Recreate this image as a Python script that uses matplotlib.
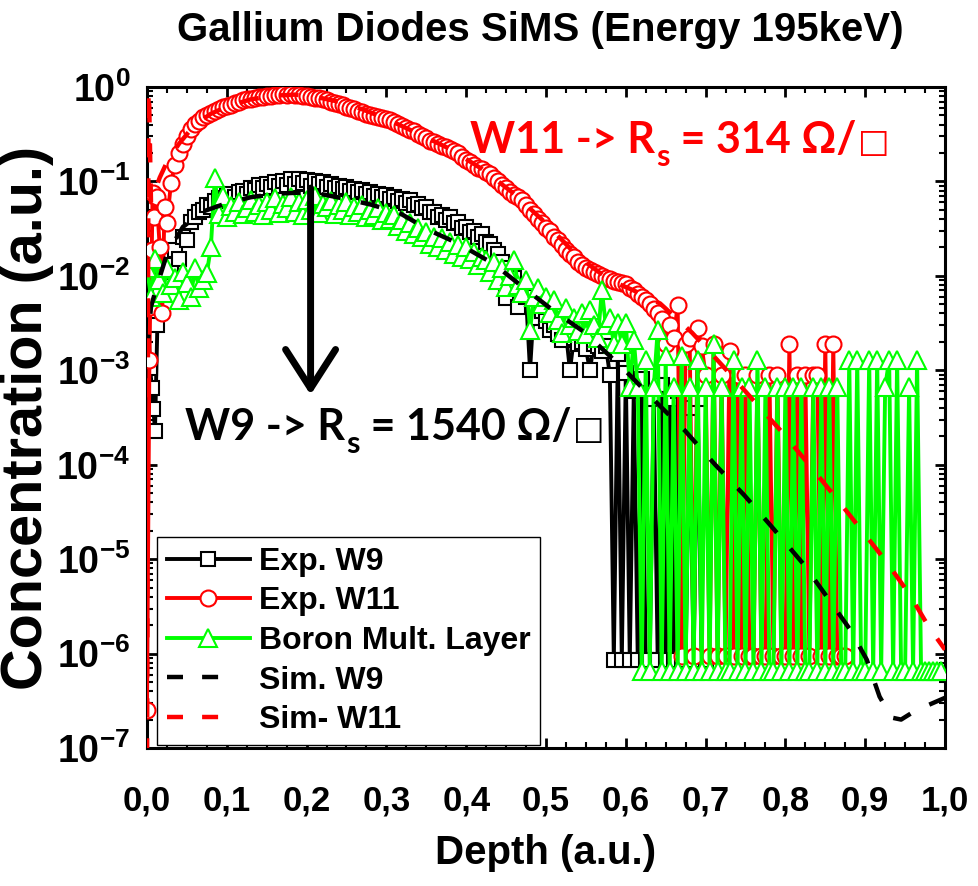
import numpy as np
import matplotlib
matplotlib.use("Agg")
import matplotlib.pyplot as plt
from matplotlib.ticker import MultipleLocator, LogLocator, FuncFormatter, LogFormatterMathtext, NullFormatter

# ── Data ─────────────────────────────────────────────────────────────────────
STEP = 0.005

# Exp. W9 : irregular head, then a regular depth grid from 0.020
W9_HEAD_X = [0.000, 0.004, 0.006, 0.008, 0.010, 0.013, 0.016]
W9_HEAD_Y = [6.0e-3, 1.05e-3, 6.5e-4, 3.9e-4, 2.3e-4, 3.0e-3, 7.0e-3]
W9_GRID_START = 0.020
W9_Y = [
    9.0e-3, 1.1e-2, 1.3e-2, 1.9e-2, 1.5e-2, 2.6e-2, 2.4e-2, 3.7e-2, 4.2e-2, 4.7e-2,
    5.0e-2, 5.6e-2, 5.3e-2, 6.2e-2, 6.7e-2, 6.3e-2, 7.0e-2, 7.4e-2, 6.8e-2, 7.7e-2,
    8.0e-2, 7.4e-2, 8.5e-2, 8.2e-2, 9.2e-2, 8.6e-2, 9.5e-2, 8.8e-2, 9.8e-2, 9.0e-2,
    1.0e-1, 9.2e-2, 1.05e-1, 9.4e-2, 1.07e-1, 9.6e-2, 1.03e-1, 9.0e-2, 1.0e-1, 9.3e-2,
    9.8e-2, 8.8e-2, 9.5e-2, 8.6e-2, 9.0e-2, 8.3e-2, 8.8e-2, 8.0e-2, 8.4e-2, 7.8e-2,
    8.1e-2, 7.4e-2, 7.8e-2, 7.0e-2, 7.4e-2, 6.8e-2, 7.1e-2, 6.5e-2, 6.8e-2, 6.2e-2,
    6.5e-2, 5.9e-2, 6.3e-2, 5.6e-2, 5.8e-2, 5.2e-2, 5.4e-2, 4.7e-2, 4.8e-2, 4.2e-2,
    4.4e-2, 3.9e-2, 4.2e-2, 3.6e-2, 3.7e-2, 3.2e-2, 3.3e-2, 2.9e-2, 3.0e-2, 2.6e-2,
    2.8e-2, 2.3e-2, 2.2e-2, 1.9e-2, 1.7e-2, 1.4e-2, 5.8e-3, 1.2e-2, 9.5e-3, 4.7e-3,
    7.5e-3, 6.0e-3, 1.0e-3, 5.0e-3, 3.6e-3, 4.2e-3, 3.3e-3, 2.7e-3, 3.0e-3, 2.4e-3,
    2.1e-3, 2.5e-3, 1.0e-3, 2.2e-3, 1.9e-3, 2.0e-3, 1.7e-3, 1.0e-3, 1.9e-3, 1.8e-3,
    1.6e-3, 1.8e-3, 9.0e-4, 8.5e-7, 1.5e-3, 8.5e-7, 9.3e-4, 8.5e-7, 6.0e-4, 8.5e-7,
    8.0e-4, 8.5e-7, 8.5e-7, 5.0e-4, 8.5e-7, 7.0e-4, 8.5e-7, 5.0e-4, 8.5e-7, 6.0e-4,
    8.5e-7, 8.5e-7, 4.0e-4, 8.5e-7, 5.0e-4, 8.5e-7, 8.5e-7,
]

# Exp. W11
W11_HEAD_X = [0.000, 0.003, 0.004, 0.006, 0.007, 0.009, 0.012, 0.016, 0.019, 0.022]
W11_HEAD_Y = [2.5e-7, 1.3e-3, 4.7e-3, 1.9e-2, 7.5e-2, 4.2e-2, 6.8e-2, 2.0e-2, 4.0e-3, 5.4e-2]
W11_GRID_START = 0.025
W11_Y = [
    3.6e-2, 9.6e-2, 1.5e-1, 2.0e-1, 2.5e-1, 3.0e-1, 3.6e-1, 4.1e-1, 4.4e-1, 4.8e-1,
    5.0e-1, 5.3e-1, 5.6e-1, 5.8e-1, 6.1e-1, 6.3e-1, 6.5e-1, 6.8e-1, 7.0e-1, 7.2e-1,
    7.4e-1, 7.5e-1, 7.7e-1, 7.8e-1, 7.9e-1, 8.0e-1, 8.1e-1, 8.3e-1, 8.2e-1, 8.4e-1,
    8.3e-1, 8.4e-1, 8.2e-1, 8.3e-1, 8.1e-1, 8.0e-1, 7.9e-1, 7.7e-1, 7.6e-1, 7.4e-1,
    7.3e-1, 7.0e-1, 6.8e-1, 6.6e-1, 6.4e-1, 6.2e-1, 6.0e-1, 5.8e-1, 5.6e-1, 5.4e-1,
    5.2e-1, 5.0e-1, 4.9e-1, 4.8e-1, 4.7e-1, 4.6e-1, 4.5e-1, 4.3e-1, 4.1e-1, 3.9e-1,
    3.7e-1, 3.5e-1, 3.4e-1, 3.2e-1, 3.0e-1, 2.9e-1, 2.7e-1, 2.6e-1, 2.5e-1, 2.4e-1,
    2.3e-1, 2.2e-1, 2.1e-1, 2.0e-1, 1.8e-1, 1.7e-1, 1.6e-1, 1.5e-1, 1.4e-1, 1.35e-1,
    1.25e-1, 1.2e-1, 1.1e-1, 1.0e-1, 9.2e-2, 8.5e-2, 7.8e-2, 7.2e-2, 6.8e-2, 6.4e-2,
    5.6e-2, 5.0e-2, 4.5e-2, 4.0e-2, 3.6e-2, 3.2e-2, 3.0e-2, 2.6e-2, 2.4e-2, 2.1e-2,
    1.9e-2, 1.7e-2, 1.6e-2, 1.4e-2, 1.3e-2, 1.2e-2, 1.15e-2, 1.1e-2, 1.05e-2, 1.0e-2,
    9.6e-3, 9.2e-3, 8.8e-3, 8.6e-3, 8.4e-3, 8.2e-3, 7.5e-3, 7.0e-3, 6.5e-3, 6.0e-3,
    5.6e-3, 5.0e-3, 4.5e-3, 4.0e-3, 3.5e-3, 1.9e-3, 3.0e-3, 2.2e-3, 4.9e-3, 9.5e-7,
    1.9e-3, 2.2e-3, 9.5e-7, 2.8e-3, 1.8e-3, 9.0e-4, 9.5e-7, 1.9e-3, 9.5e-7, 9.0e-4,
    9.5e-7, 1.6e-3, 9.5e-7, 9.0e-4, 9.5e-7, 9.0e-4, 9.5e-7, 9.5e-7, 9.0e-4, 9.5e-7,
    9.5e-7, 9.0e-4, 9.5e-7, 9.0e-4, 9.5e-7, 9.5e-7, 1.9e-3, 9.5e-7, 9.0e-4, 9.5e-7,
    9.0e-4, 9.5e-7, 9.0e-4, 9.0e-4, 9.5e-7, 1.9e-3, 9.5e-7, 1.9e-3, 9.5e-7, 9.5e-7,
    9.5e-7,
]

# Boron Mult. Layer
B_HEAD_X = [0.000, 0.005, 0.010, 0.015]
B_HEAD_Y = [1.2e-2, 6.0e-3, 1.5e-2, 9.0e-3]
B_GRID_START = 0.020
B_Y = [
    6.6e-3, 1.2e-2, 8.0e-3, 9.6e-3, 5.5e-3, 1.1e-2, 8.4e-3, 6.0e-3, 1.2e-2, 7.5e-3,
    9.0e-3, 1.07e-2, 2.0e-2, 1.08e-1, 4.5e-2, 7.0e-2, 4.2e-2, 5.5e-2, 4.8e-2, 6.0e-2,
    4.5e-2, 5.2e-2, 6.3e-2, 4.8e-2, 5.6e-2, 4.4e-2, 6.0e-2, 5.0e-2, 6.6e-2, 4.6e-2,
    5.8e-2, 5.2e-2, 6.8e-2, 4.8e-2, 6.0e-2, 4.4e-2, 6.4e-2, 5.0e-2, 7.0e-2, 4.6e-2,
    5.8e-2, 5.3e-2, 6.2e-2, 4.5e-2, 5.6e-2, 5.0e-2, 6.0e-2, 4.4e-2, 5.4e-2, 4.8e-2,
    5.6e-2, 4.2e-2, 5.0e-2, 4.4e-2, 5.2e-2, 3.9e-2, 4.6e-2, 4.0e-2, 4.4e-2, 3.4e-2,
    3.9e-2, 3.0e-2, 3.6e-2, 2.8e-2, 3.2e-2, 2.6e-2, 2.9e-2, 2.2e-2, 2.6e-2, 2.0e-2,
    2.5e-2, 1.9e-2, 2.3e-2, 1.7e-2, 2.1e-2, 1.6e-2, 2.0e-2, 1.5e-2, 1.8e-2, 1.3e-2,
    1.6e-2, 1.47e-2, 1.1e-2, 1.4e-2, 9.0e-3, 1.2e-2, 7.6e-3, 1.0e-2, 1.47e-2, 8.0e-3,
    6.6e-3, 9.0e-3, 2.7e-3, 6.0e-3, 7.5e-3, 5.0e-3, 6.0e-3, 4.0e-3, 5.5e-3, 3.4e-3,
    2.5e-3, 4.6e-3, 3.0e-3, 3.6e-3, 2.6e-3, 4.0e-3, 2.4e-3, 4.3e-3, 3.0e-3, 2.2e-3,
    7.0e-3, 3.0e-3, 3.6e-3, 1.9e-3, 3.2e-3, 1.9e-3, 3.2e-3, 6.6e-4, 2.1e-3, 6.6e-4,
    6.6e-7, 1.3e-3, 6.6e-7, 6.6e-4, 2.7e-3, 6.6e-7, 1.4e-3, 6.6e-7, 6.6e-4, 6.6e-7,
    1.4e-3, 6.6e-7, 6.6e-4, 6.6e-7, 1.3e-3, 6.6e-7, 6.6e-4, 6.6e-7, 1.9e-3, 6.6e-7,
    6.6e-4, 6.6e-7, 6.6e-7, 1.3e-3, 6.6e-7, 6.6e-4, 6.6e-7, 6.6e-4, 6.6e-7, 1.3e-3,
    6.6e-7, 6.6e-4, 6.6e-7, 6.6e-7, 6.6e-4, 6.6e-7, 6.6e-4, 6.6e-7, 6.6e-4, 6.6e-7,
    6.6e-4, 6.6e-7, 6.6e-7, 6.6e-4, 6.6e-7, 6.6e-4, 6.6e-7, 6.6e-4, 6.6e-7, 6.6e-4,
    6.6e-7, 6.6e-7, 1.3e-3, 6.6e-7, 1.3e-3, 6.6e-7, 6.6e-7, 1.3e-3, 6.6e-7, 1.3e-3,
    6.6e-7, 6.6e-4, 1.3e-3, 6.6e-7, 1.3e-3, 6.6e-7, 6.6e-7, 6.6e-4, 6.6e-7, 1.3e-3,
    6.6e-7, 6.6e-7, 6.6e-7, 6.6e-7, 6.6e-7, 6.6e-7,
]

# Simulations
SIM_W9_X = [0.000, 0.005, 0.012, 0.025, 0.045, 0.070, 0.100, 0.130, 0.160, 0.190,
            0.220, 0.250, 0.280, 0.317, 0.355, 0.390, 0.435, 0.471, 0.509, 0.549,
            0.599, 0.638, 0.674, 0.712, 0.749, 0.785, 0.822, 0.852, 0.881, 0.902,
            0.918, 0.933, 0.945, 0.960, 0.977, 1.000]
SIM_W9_Y = [1.5e-3, 4.7e-3, 7.6e-3, 1.7e-2, 3.3e-2, 4.8e-2, 5.9e-2, 6.8e-2, 7.4e-2, 7.6e-2,
            7.3e-2, 6.5e-2, 5.7e-2, 4.6e-2, 3.0e-2, 2.2e-2, 1.33e-2, 7.6e-3, 4.3e-3, 2.5e-3,
            1.0e-3, 4.6e-4, 2.3e-4, 1.0e-4, 4.7e-5, 2.1e-5, 9.0e-6, 4.0e-6, 1.8e-6, 8.6e-7,
            3.5e-7, 2.1e-7, 2.0e-7, 2.4e-7, 2.8e-7, 3.4e-7]

SIM_W11_X = [0.000, 0.002, 0.005, 0.010, 0.016, 0.025, 0.040, 0.060, 0.080, 0.100,
             0.130, 0.160, 0.185, 0.210, 0.240, 0.270, 0.300, 0.340, 0.380, 0.420,
             0.460, 0.500, 0.540, 0.580, 0.610, 0.643, 0.683, 0.722, 0.759, 0.794,
             0.831, 0.863, 0.894, 0.926, 0.955, 0.980, 1.000]
SIM_W11_Y = [3e-8, 1.5, 6e-2, 8e-2, 1.1e-1, 1.6e-1, 2.5e-1, 4.0e-1, 5.2e-1, 6.2e-1,
             7.4e-1, 8.1e-1, 8.3e-1, 7.9e-1, 7.0e-1, 5.8e-1, 4.6e-1, 3.2e-1, 2.2e-1, 1.35e-1,
             7.4e-2, 3.6e-2, 1.6e-2, 9.0e-3, 7.0e-3, 5.1e-3, 2.5e-3, 1.1e-3, 4.9e-4, 2.3e-4,
             9.7e-5, 4.5e-5, 2.1e-5, 9.5e-6, 4.3e-6, 1.9e-6, 1.1e-6]


def depth(head_x, start, values):
    """Head depths followed by the regular grid for the remaining values."""
    n = len(values)
    return np.concatenate([head_x, start + STEP * np.arange(n)])


# ── Style ────────────────────────────────────────────────────────────────────
plt.rcParams['font.family'] = ['Liberation Sans', 'DejaVu Sans']
plt.rcParams['font.weight'] = 'bold'
plt.rcParams['axes.labelweight'] = 'bold'
plt.rcParams['mathtext.fontset'] = 'custom'
plt.rcParams['mathtext.rm'] = 'Liberation Sans:bold'
plt.rcParams['mathtext.bf'] = 'Liberation Sans:bold'
plt.rcParams['mathtext.it'] = 'Liberation Sans:bold:italic'

GREEN = '#00ff00'

fig = plt.figure(figsize=(9.79, 8.86), dpi=100)
ax = fig.add_axes([147 / 979, 138 / 886, 798 / 979, 661 / 886])

exp_kw = dict(lw=2.8, mfc='white', mew=1.5)
ax.plot(depth(W9_HEAD_X, W9_GRID_START, W9_Y), W9_HEAD_Y + W9_Y, '-', color='black',
        marker='s', ms=10.5, mec='black', label='Exp. W9', zorder=2, **exp_kw)
ax.plot(depth(W11_HEAD_X, W11_GRID_START, W11_Y), W11_HEAD_Y + W11_Y, '-', color='red',
        marker='o', ms=11.5, mec='red', label='Exp. W11', zorder=3, **exp_kw)
ax.plot(depth(B_HEAD_X, B_GRID_START, B_Y), B_HEAD_Y + B_Y, '-', color=GREEN,
        marker='^', ms=13, mec=GREEN, label='Boron Mult. Layer', zorder=4, **exp_kw)
ax.plot(SIM_W9_X, SIM_W9_Y, color='black', lw=3.2, dashes=(4.3, 4.7), label='Sim. W9', zorder=5)
ax.plot(SIM_W11_X, SIM_W11_Y, color='red', lw=3.2, dashes=(4.3, 4.7), label='Sim- W11', zorder=6)

ax.set_yscale('log')
ax.set_xlim(0, 1.0)
ax.set_ylim(1e-7, 1.0)

ax.xaxis.set_major_locator(MultipleLocator(0.1))
ax.xaxis.set_minor_locator(MultipleLocator(0.025))
ax.xaxis.set_major_formatter(FuncFormatter(lambda v, p: f"{v:.1f}".replace('.', ',')))
ax.yaxis.set_major_locator(LogLocator(base=10, numticks=20))
ax.yaxis.set_minor_locator(LogLocator(base=10, subs=np.arange(2, 10), numticks=100))
ax.yaxis.set_major_formatter(LogFormatterMathtext())
ax.yaxis.set_minor_formatter(NullFormatter())

ax.tick_params(which='both', direction='in', top=True, right=True)
ax.tick_params(which='major', length=7, width=2)
ax.tick_params(which='minor', length=4, width=1.5)
ax.tick_params(axis='x', labelsize=25, pad=26)
ax.tick_params(axis='y', labelsize=27, pad=12)
for sp in ax.spines.values():
    sp.set_linewidth(2.2)

ax.set_xlabel('Depth (a.u.)', fontsize=29, labelpad=12)
ax.set_ylabel('Concentration (a.u.)', fontsize=41.5, labelpad=2)
fig.text(540 / 979, 1 - 30 / 886, 'Gallium Diodes SiMS (Energy 195keV)',
         fontsize=29, fontweight='bold', ha='center', va='center')

leg = ax.legend(loc='lower left', bbox_to_anchor=(0.0125, 0.005), borderaxespad=0,
                fontsize=23, numpoints=1, handlelength=2.6, handletextpad=0.3,
                labelspacing=0.3, fancybox=False, framealpha=1, edgecolor='black',
                borderpad=0.3)
leg.get_frame().set_linewidth(1.0)
leg.set_zorder(10)
# the dashed handles show just two dashes
for h in leg.legend_handles[3:]:
    h.set_dashes([3.6, 4.3, 3.6, 30])

# ── Annotations ──────────────────────────────────────────────────────────────
ax.annotate('', xy=(0.205, 5.5e-4), xytext=(0.205, 0.085),
            arrowprops=dict(arrowstyle='->,head_length=0.7,head_width=0.45',
                            lw=5, color='black', mutation_scale=40, shrinkA=0, shrinkB=0),
            zorder=8)

ann_font = ['Lato', 'DejaVu Sans']


def sheet_label(x, y, lead, value, color):
    # all pieces share the baseline y; each starts where the previous one ends
    t1 = ax.text(x, y, lead, fontsize=31, fontweight='bold', family=ann_font,
                 color=color, ha='left', va='baseline', zorder=9)
    t2 = ax.annotate('s', xy=(1, y), xycoords=(t1, 'data'), xytext=(1, -9),
                     textcoords='offset points', fontsize=22, fontweight='bold',
                     family=ann_font, color=color, ha='left', va='baseline', zorder=9)
    t3 = ax.annotate(value, xy=(1, y), xycoords=(t2, 'data'), fontsize=31, fontweight='bold',
                     family=ann_font, color=color, ha='left', va='baseline', zorder=9)
    ax.annotate('□', xy=(1, y), xycoords=(t3, 'data'), xytext=(1, 1),
                textcoords='offset points', fontsize=24, fontweight='normal',
                family='DejaVu Sans', color=color, ha='left', va='baseline', zorder=9)


sheet_label(0.405, 0.20, 'W11 -> R', ' = 314 Ω/', 'red')
sheet_label(0.0476, 1.82e-4, 'W9 -> R', ' = 1540 Ω/', 'black')

fig.savefig('out.png', dpi=100, facecolor='white')
